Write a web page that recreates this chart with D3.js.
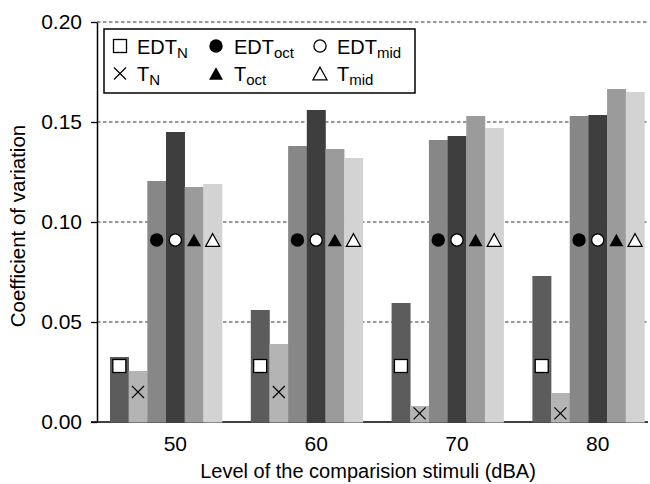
<!DOCTYPE html>
<html>
<head>
<meta charset="utf-8">
<script src="https://cdn.jsdelivr.net/npm/d3@7"></script>
<style>
  body { margin: 0; background: #fff; }
  svg { display: block; font-family: "Liberation Sans", Arial, Helvetica, sans-serif; }
</style>
</head>
<body>
<svg id="chart" width="650" height="484"></svg>
<script>
// ---- data ----
const groups = ["50", "60", "70", "80"];
const seriesKeys = ["EDT_N", "T_N", "EDT_oct", "EDT_mid", "T_oct", "T_mid"];
const edtN   = [0.0325, 0.056, 0.0595, 0.073];
const tN     = [0.0255, 0.039, 0.008, 0.0145];
const edtOct = [0.1205, 0.138, 0.141, 0.153];
const edtMid = [0.145, 0.156, 0.143, 0.1535];
const tOct   = [0.1175, 0.1365, 0.153, 0.1665];
const tMid   = [0.119, 0.132, 0.147, 0.165];
// marker heights drawn on each bar
const markEdtN   = [0.028, 0.028, 0.028, 0.028];
const markTN     = [0.015, 0.015, 0.0043, 0.0043];
const markEdtOct = [0.091, 0.091, 0.091, 0.091];
const markEdtMid = [0.091, 0.091, 0.091, 0.091];
const markTOct   = [0.091, 0.091, 0.091, 0.091];
const markTMid   = [0.091, 0.091, 0.091, 0.091];
const yTicks = [0, 0.05, 0.10, 0.15, 0.20];
const xTitle = "Level of the comparision stimuli (dBA)";
const yTitle = "Coefficient of variation";

const valuesBy = { EDT_N: edtN, T_N: tN, EDT_oct: edtOct, EDT_mid: edtMid, T_oct: tOct, T_mid: tMid };
const marksBy  = { EDT_N: markEdtN, T_N: markTN, EDT_oct: markEdtOct, EDT_mid: markEdtMid, T_oct: markTOct, T_mid: markTMid };

// ---- styles ----
const colors = { EDT_N: "#5c5c5c", T_N: "#b4b4b4", EDT_oct: "#878787", EDT_mid: "#3e3e3e", T_oct: "#9b9b9b", T_mid: "#d3d3d3" };
const symbolType = { EDT_N: "square", T_N: "x", EDT_oct: "circleF", EDT_mid: "circleO", T_oct: "triF", T_mid: "triO" };
const legendLabel = {
  EDT_N: ["EDT", "N"], T_N: ["T", "N"], EDT_oct: ["EDT", "oct"],
  EDT_mid: ["EDT", "mid"], T_oct: ["T", "oct"], T_mid: ["T", "mid"]
};

const svg = d3.select("#chart");
const axisX = 97, plotRight = 648;

const y = d3.scaleLinear().domain([0, 0.20]).range([422, 22]);
const x0 = d3.scaleBand().domain(groups).range([110, 644.4]).paddingInner(0.2045).paddingOuter(0);
const x1 = d3.scaleBand().domain(seriesKeys).range([0, x0.bandwidth()]);

// gridlines
svg.append("g").selectAll("line")
  .data(yTicks.filter(d => d > 0))
  .join("line")
  .attr("x1", axisX).attr("x2", plotRight)
  .attr("y1", d => y(d)).attr("y2", d => y(d))
  .attr("stroke", "#333").attr("stroke-width", 1)
  .attr("stroke-dasharray", "3.5,2.5");

// baseline
svg.append("line")
  .attr("x1", axisX - 6).attr("x2", plotRight)
  .attr("y1", y(0)).attr("y2", y(0))
  .attr("stroke", "#000").attr("stroke-width", 1.5);

// bars
const rows = [];
groups.forEach((g, i) => seriesKeys.forEach(k => rows.push({ g, k, v: valuesBy[k][i], m: marksBy[k][i] })));

svg.append("g").selectAll("rect")
  .data(rows)
  .join("rect")
  .attr("x", d => x0(d.g) + x1(d.k))
  .attr("width", x1.bandwidth() + 0.3)
  .attr("y", d => y(d.v))
  .attr("height", d => y(0) - y(d.v) + 0.5)
  .attr("fill", d => colors[d.k]);

// symbol drawing
function drawSymbol(sel, type, cx, cy) {
  const s = 6.7;
  if (type === "square") {
    sel.append("rect").attr("x", cx - 6.5).attr("y", cy - 6.5).attr("width", 13).attr("height", 13)
      .attr("fill", "#fff").attr("stroke", "#000").attr("stroke-width", 1.3);
  } else if (type === "x") {
    sel.append("path").attr("d", `M${cx - 6},${cy - 6}L${cx + 6},${cy + 6}M${cx - 6},${cy + 6}L${cx + 6},${cy - 6}`)
      .attr("stroke", "#000").attr("stroke-width", 1.2).attr("fill", "none");
  } else if (type === "circleF" || type === "circleO") {
    sel.append("circle").attr("cx", cx).attr("cy", cy).attr("r", type === "circleF" ? s : s - 0.6)
      .attr("fill", type === "circleF" ? "#000" : "#fff")
      .attr("stroke", "#000").attr("stroke-width", type === "circleF" ? 0 : 1.3);
  } else {
    const w = 7, h = 6.3;
    sel.append("path").attr("d", `M${cx},${cy - h}L${cx + w},${cy + h}L${cx - w},${cy + h}Z`)
      .attr("fill", type === "triF" ? "#000" : "#fff")
      .attr("stroke", "#000").attr("stroke-width", type === "triF" ? 0 : 1.3)
      .attr("stroke-linejoin", "miter");
  }
}

const markG = svg.append("g");
rows.forEach(d => {
  drawSymbol(markG, symbolType[d.k], x0(d.g) + x1(d.k) + x1.bandwidth() / 2, y(d.m));
});

// y axis
const yAxis = svg.append("g")
  .attr("transform", `translate(${axisX},0)`)
  .call(d3.axisLeft(y).tickValues(yTicks).tickFormat(d3.format(".2f")).tickSize(6).tickSizeOuter(0).tickPadding(9));
yAxis.select(".domain").attr("stroke-width", 1.5).attr("stroke", "#000");
yAxis.selectAll(".tick line").attr("stroke-width", 1.3).attr("stroke", "#000");
yAxis.selectAll("text").attr("font-size", 21).attr("fill", "#000").attr("font-family", "Liberation Sans, Arial, sans-serif");

// x axis labels (centered under the 4th bar of each group)
const xAxis = svg.append("g")
  .attr("transform", `translate(${x1.bandwidth() / 2},${y(0)})`)
  .call(d3.axisBottom(x0).tickSize(0).tickPadding(14));
xAxis.select(".domain").remove();
xAxis.selectAll("text").attr("font-size", 21).attr("fill", "#000").attr("font-family", "Liberation Sans, Arial, sans-serif");

// axis titles
svg.append("text")
  .attr("x", 368).attr("y", 478)
  .attr("text-anchor", "middle").attr("font-size", 20)
  .text(xTitle);
svg.append("text")
  .attr("transform", "translate(25,226) rotate(-90)")
  .attr("text-anchor", "middle").attr("font-size", 20.5)
  .text(yTitle);

// legend
const leg = svg.append("g");
leg.append("rect").attr("x", 104).attr("y", 29).attr("width", 311).attr("height", 64)
  .attr("fill", "#fff").attr("stroke", "#000").attr("stroke-width", 1.5);
const legendOrder = [["EDT_N", "EDT_oct", "EDT_mid"], ["T_N", "T_oct", "T_mid"]];
const colSymX = [120, 216, 320];
const colTxtX = [137, 234, 337];
const rowSymY = [46, 73.5];
const rowTxtY = [53.5, 80.5];
legendOrder.forEach((row, r) => row.forEach((k, c) => {
  drawSymbol(leg, symbolType[k], colSymX[c], rowSymY[r]);
  const t = leg.append("text").attr("x", colTxtX[c]).attr("y", rowTxtY[r]).attr("font-size", 20);
  t.append("tspan").text(legendLabel[k][0]);
  t.append("tspan").attr("font-size", 15).attr("dy", 4).text(legendLabel[k][1]);
}));
</script>
</body>
</html>
